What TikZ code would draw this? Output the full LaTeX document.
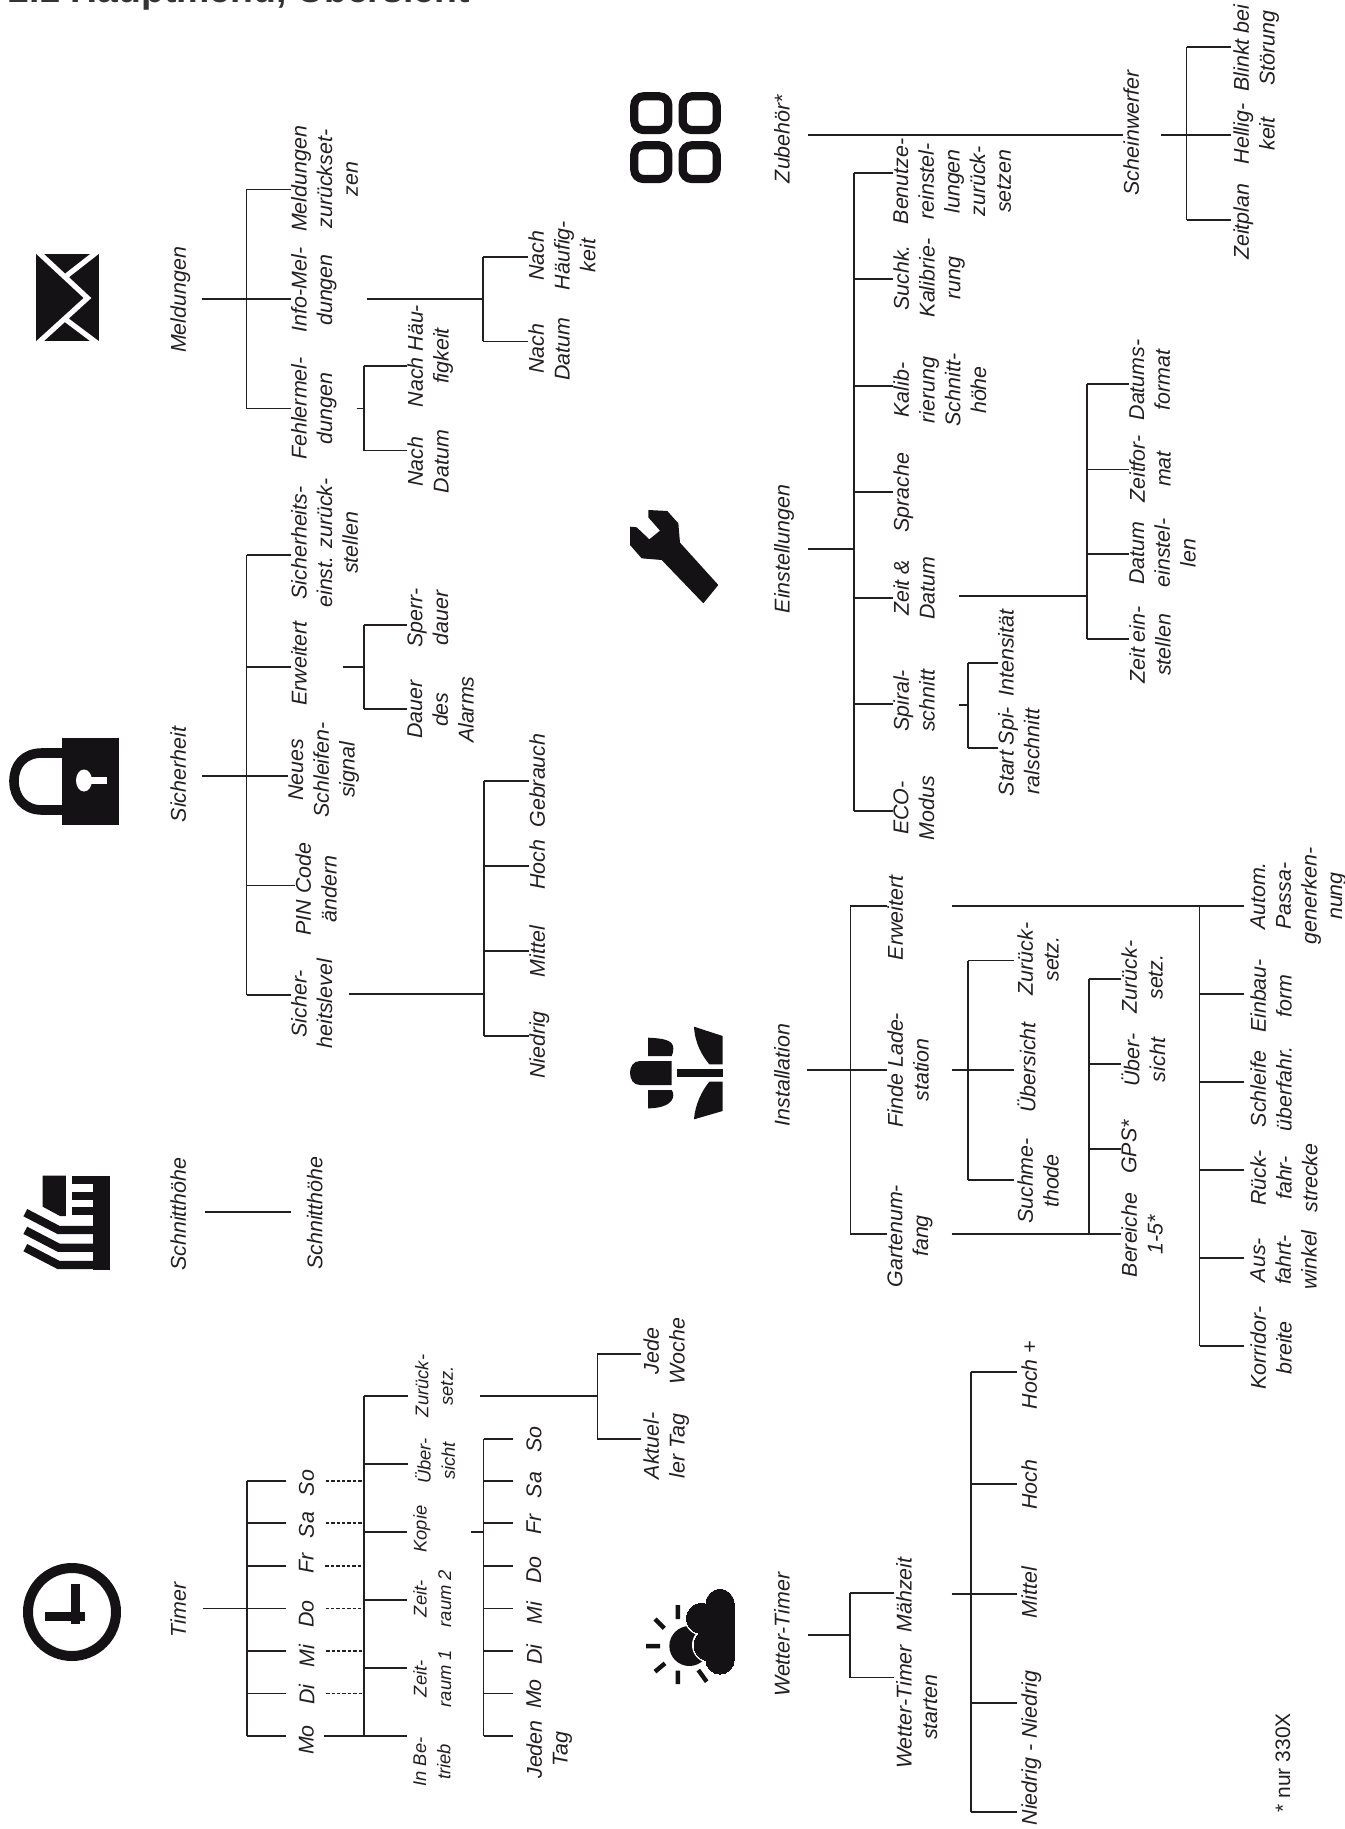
\documentclass[tikz,border=0pt]{standalone}
\usepackage{fontspec}
\setmainfont{Liberation Sans}
\definecolor{lineBlack}{HTML}{231F20}
\definecolor{iconBlack}{HTML}{141215}
\definecolor{titleGray}{HTML}{333333}
\begin{document}
\begin{tikzpicture}[x=0.5pt,y=-0.5pt]
  \tikzset{
    lbl/.style={font=\fontsize{10.7}{12.85}\selectfont\itshape,text=lineBlack,rotate=90,align=center,inner sep=0pt},
    lblsmall/.style={lbl,font=\fontsize{9.2}{12.2}\selectfont\itshape},
    foot/.style={lbl,font=\fontsize{10.5}{12.85}\selectfont},
    titlelbl/.style={font=\fontsize{18.7}{22}\selectfont\bfseries,text=titleGray,anchor=base west,inner sep=0pt},
    conn/.style={draw=lineBlack,line width=0.9pt},
    dots/.style={conn,dash pattern=on 1.7pt off 1pt},
    iconfill/.style={fill=iconBlack,draw=none},
    iconline/.style={draw=iconBlack,line width=2.2pt}
  }
  \useasboundingbox (0,0) rectangle (1344,1829);

  \node[titlelbl] (title) at (8,2.5) {2.1 Hauptmenü, Übersicht};

  % menu titles
  \foreach \n/\x/\y/\txt in {mRoot/170/300/Meldungen,sRoot/170/774.5/Sicherheit,hRoot/170/1214/Schnitthöhe,tRoot/170/1610/Timer,
      yRoot/773.7/139/Zubehör*,nRoot/773.7/549/Einstellungen,aRoot/773.7/1075/Installation,uRoot/773.7/1634.8/Wetter-Timer}
    {\node[lbl,anchor=north] (\n) at (\x,\y) {\txt};}

  % stubs and buses
  \foreach \a/\ax/\b/\bx/\y/\ya/\yb in {
      mIn/202/mBus/246.5/299/189.5/408.5,eIn/356.6/eBus/364/408.5/366/450.5,iIn/366.5/iBus/483/299/257/341.5,
      sIn/202/sBus/246.5/776/555/995,wIn/343/wBus/364/667/625/709,lIn/349/lBus/484/993.6/781/1036,
      tIn/202.5/tBus/246.6/1608.4/1481/1736,oIn/324/oBus/364/1736/1396/1736,kIn/470.7/kBus/483.5/1532/1438.7/1736,rIn/480/rBus/597.4/1396/1354/1438.7,
      zIn/1161/zBus/1186.5/135/46.7/219.8,nIn/808/nBus/854/549/173/810.7,dIn/959/dBus/1087/596.3/384/639,pIn/959/pBus/968/705/663/748,
      aIn/807/aBus/850.4/1070/906/1234,fIn/951.5/fBus/968/1070/960.5/1180,gIn/951.5/gBus/1089/1234/979/1234,xIn/952/xBus/1199.5/906/906/1346,
      uIn/808/uBus/850/1634.8/1593/1677.5,cIn/951.5/cBus/971/1593.6/1372/1812}
    {\coordinate (\a) at (\ax,\y);
     \coordinate (\b) at (\bx,\y);
     \draw[conn] (\a) -- (\b);
     \draw[conn] (\b |- 0,\ya) -- (\b |- 0,\yb);}

  % Meldungen
  \foreach \n/\yc/\yl/\txt in {mErr/408.5/408.5/{Fehlermel-\\dungen},mInfo/290/299/{Info-Mel-\\dungen},mReset/179/189.5/{Meldungen\\zurückset-\\zen}}
    {\node[lbl,anchor=north] (\n) at (290.6,\yc) {\txt};
     \draw[conn] (mBus |- 0,\yl) -- (\n.north |- 0,\yl);}
  \foreach \n/\yc/\yl/\txt in {eFreq/356/366/{Nach Häu-\\figkeit},eDate/461.5/450.5/{Nach\\Datum}}
    {\node[lbl,anchor=north] (\n) at (407,\yc) {\txt};
     \draw[conn] (eBus |- 0,\yl) -- (\n.north |- 0,\yl);}
  \foreach \n/\yc/\yl/\txt in {iFreq/255.7/257/{Nach\\Häufig-\\keit},iDate/349/341.5/{Nach\\Datum}}
    {\node[lbl,anchor=north] (\n) at (528,\yc) {\txt};
     \draw[conn] (iBus |- 0,\yl) -- (\n.north |- 0,\yl);}

  % Sicherheit
  \foreach \n/\x/\yc/\yl/\txt in {sReset/290.6/543/555/{Sicherheits-\\einst. zurück-\\stellen},sExt/290.6/663.4/667/Erweitert,
      sLoop/288/770/776/{Neues\\Schleifen-\\signal},sPin/295/889/885.4/{PIN Code\\ändern},sLevel/290.6/1003.7/995/{Sicher-\\heitslevel}}
    {\node[lbl,anchor=north] (\n) at (\x,\yc) {\txt};
     \draw[conn] (sBus |- 0,\yl) -- (\n.north |- 0,\yl);}
  \foreach \n/\yc/\yl/\txt in {wLock/618/625/{Sperr-\\dauer},wAlarm/709.7/709/{Dauer\\des\\Alarms}}
    {\node[lbl,anchor=north] (\n) at (407,\yc) {\txt};
     \draw[conn] (wBus |- 0,\yl) -- (\n.north |- 0,\yl);}
  \foreach \n/\yc/\yl/\txt in {lUse/780.5/781/Gebrauch,lHigh/865/866/Hoch,lMid/951.5/951/Mittel,lLow/1045/1036/Niedrig}
    {\node[lbl,anchor=north] (\n) at (529,\yc) {\txt};
     \draw[conn] (lBus |- 0,\yl) -- (\n.north |- 0,\yl);}

  % Schnitthöhe
  \node[lbl,anchor=north] (hChild) at (306.4,1213) {Schnitthöhe};
  \coordinate (hIn) at (205,1212);
  \draw[conn,shorten >=7.5pt] (hIn) -- (hChild.north |- hIn);

  % Timer
  \foreach \n/\yc/\yl/\txt in {dSo/1483/1481/So,dSa/1525/1523.3/Sa,dFr/1563/1565.7/Fr,dDo/1614/1608.4/Do,dMi/1656/1650.7/Mi,dDi/1694.6/1693.5/Di}
    {\node[lbl,anchor=north] (\n) at (298.5,\yc) {\txt};
     \draw[conn,shorten >=6.4pt] (tBus |- 0,\yl) -- (\n.north |- 0,\yl);
     \draw[dots,shorten <=5.7pt] (\n.south |- 0,\yl) -- (oBus |- 0,\yl);}
  \node[lbl,anchor=north] (dMo) at (298.5,1740) {Mo};
  \draw[conn,shorten >=6.4pt] (tBus |- 0,1736) -- (dMo.north |- 0,1736);
  \foreach \n/\x/\yc/\yl/\txt in {oReset/414.7/1386/1396/{Zurück-\\setz.},oView/414.7/1461/1464/{Über-\\sicht},oCopy/413/1529/1532/Kopie,
      oTwo/413/1598.7/1600/{Zeit-\\raum 2},oOne/413/1678.7/1668/{Zeit-\\raum 1},oRun/413/1762/1736/{In Be-\\trieb}}
    {\node[lblsmall,anchor=north] (\n) at (\x,\yc) {\txt};
     \draw[conn,shorten >=3.2pt] (oBus |- 0,\yl) -- (\n.north |- 0,\yl);}
  \foreach \n/\yc/\yl/\txt in {kSo/1439.5/1438.7/So,kSa/1485/1481/Sa,kFr/1524/1523.3/Fr,kDo/1570/1565.7/Do,kMi/1612.7/1608.4/Mi,kDi/1654.6/1650.7/Di,kMo/1694/1693.5/Mo,kAll/1749.5/1736/{Jeden\\Tag}}
    {\node[lbl,anchor=north] (\n) at (526,\yc) {\txt};
     \draw[conn,shorten >=6.5pt] (kBus |- 0,\yl) -- (\n.north |- 0,\yl);}
  \foreach \n/\yc/\yl/\txt in {rWeek/1351/1354/{Jede\\Woche},rDay/1445.7/1438.7/{Aktuel-\\ler Tag}}
    {\node[lbl,anchor=north] (\n) at (643,\yc) {\txt};
     \draw[conn,shorten >=1pt] (rBus |- 0,\yl) -- (\n.north |- 0,\yl);}

  % Zubehör
  \node[lbl,anchor=north] (yLamp) at (1123,132.9) {Scheinwerfer};
  \coordinate (yIn) at (808,135);
  \draw[conn] (yIn) -- (yLamp.north |- yIn);
  \foreach \n/\yc/\yl/\txt in {zBlink/48/46.7/{Blinkt bei\\Störung},zBright/134/135/{Hellig-\\keit},zPlan/221.7/219.8/Zeitplan}
    {\node[lbl,anchor=north] (\n) at (1233,\yc) {\txt};
     \draw[conn,shorten >=1pt] (zBus |- 0,\yl) -- (\n.north |- 0,\yl);}

  % Einstellungen
  \foreach \n/\yc/\yl/\txt in {nUser/181.4/173/{Benutze-\\reinstel-\\lungen\\zurück-\\setzen},nCal/278/279.3/{Suchk.\\Kalibrie-\\rung},
      nCut/390/386/{Kalib-\\rierung\\Schnitt-\\höhe},nLang/492.5/492/Sprache,nTime/588/598/{Zeit \&\\Datum},nSpiral/700.8/704/{Spiral-\\schnitt},nEco/808/810.7/{ECO-\\Modus}}
    {\node[lbl,anchor=north] (\n) at (893,\yc) {\txt};
     \draw[conn] (nBus |- 0,\yl) -- (\n.north |- 0,\yl);}
  \foreach \n/\yc/\yl/\txt in {dFmt/380/384/{Datums-\\format},dHour/469/469.5/{Zeitfor-\\mat},dSet/553/554/{Datum\\einstel-\\len},dClock/645/639/{Zeit ein-\\stellen}}
    {\node[lbl,anchor=north] (\n) at (1129,\yc) {\txt};
     \draw[conn] (dBus |- 0,\yl) -- (\n.north |- 0,\yl);}
  \foreach \n/\yc/\yl/\txt in {pInt/653/663/Intensität,pStart/751.6/748/{Start Spi-\\ralschnitt}}
    {\node[lbl,anchor=north] (\n) at (997.7,\yc) {\txt};
     \draw[conn] (pBus |- 0,\yl) -- (\n.north |- 0,\yl);}

  % Installation
  \foreach \n/\yc/\yl/\txt in {aExt/918/906/Erweitert,aDock/1070/1070/{Finde Lade-\\station},aSize/1236/1234/{Gartenum-\\fang}}
    {\node[lbl,anchor=north] (\n) at (887,\yc) {\txt};
     \draw[conn] (aBus |- 0,\yl) -- (\n.north |- 0,\yl);}
  \foreach \n/\yc/\yl/\txt in {fReset/959/960.5/{Zurück-\\setz.},fView/1067.5/1070/Übersicht,fFind/1181/1180/{Suchme-\\thode}}
    {\node[lbl,anchor=north] (\n) at (1017,\yc) {\txt};
     \draw[conn,shorten >=1.5pt] (fBus |- 0,\yl) -- (\n.north |- 0,\yl);}
  \foreach \n/\yc/\yl/\txt in {gReset/977/979/{Zurück-\\setz.},gView/1060/1064/{Über-\\sicht},gGps/1147/1149/GPS*,gArea/1235/1234/{Bereiche\\1-5*}}
    {\node[lbl,anchor=north] (\n) at (1121,\yc) {\txt};
     \draw[conn] (gBus |- 0,\yl) -- (\n.north |- 0,\yl);}
  \foreach \n/\yc/\yl/\txt in {xAuto/896/906/{Autom.\\Passa-\\generken-\\nung},xForm/996/994/{Einbau-\\form},xLoop/1089/1082/{Schleife\\überfahr.},
      xBack/1178/1170/{Rück-\\fahr-\\strecke},xExit/1260/1258/{Aus-\\fahrt-\\winkel},xWide/1348/1346/{Korridor-\\breite}}
    {\node[lbl,anchor=north] (\n) at (1250,\yc) {\txt};
     \draw[conn,shorten >=3pt] (xBus |- 0,\yl) -- (\n.north |- 0,\yl);}

  % Wetter-Timer
  \foreach \n/\yc/\yl/\txt in {uTime/1595/1593/Mähzeit,uStart/1707/1677.5/{Wetter-Timer\\starten}}
    {\node[lbl,anchor=north] (\n) at (895.6,\yc) {\txt};
     \draw[conn,shorten >=1pt] (uBus |- 0,\yl) -- (\n.north |- 0,\yl);}
  \foreach \n/\yc/\yl/\txt in {cPlus/1375/1372/Hoch +,cHigh/1484.5/1483.7/Hoch,cMid/1592.5/1593.6/Mittel,cLow/1748/1702.8/Niedrig - Niedrig}
    {\node[lbl,anchor=north] (\n) at (1021,\yc) {\txt};
     \draw[conn,shorten >=2pt] (cBus |- 0,\yl) -- (\n.north |- 0,\yl);}
  \draw[conn,shorten >=2pt] (cBus |- 0,1812) -- (cLow.north |- 0,1812);

  \node[foot,anchor=north] (note) at (1275,1762.7) {* nur 330X};

  % icons, left column
  \fill[iconfill] (36,253.6) rectangle (99,341.5);
  \draw[white,line width=2.6pt] (38,252) -- (87.5,298) -- (38,343) (97,252) -- (65,277) (97,343) -- (65,319);
  \fill[iconfill] (62,737.6) rectangle (119,824.7);
  \draw[iconline,line width=4.8pt] (62,753) -- (42,753) .. controls (24,753) and (14,765) .. (14,781) .. controls (14,797) and (24,810) .. (42,810) -- (62,810);
  \fill[white] (84,780.5) ellipse[x radius=8,y radius=11];
  \fill[white] (88,777) rectangle (107,784);
  \begin{scope}[shift={(10,1160)},scale=0.3333]
    \fill[iconfill] (98,47) -- (168,47) -- (168,168) -- (150,168) -- (98,140) -- cycle;
    \fill[iconfill] (250,47) rectangle (300,330);
    \foreach \y in {47,95,140}
      {\fill[iconfill] (186,\y) rectangle (250,\y+25);}
    \foreach \y in {0,53,105}
      {\draw[iconline,line width=4.1pt] (46,158+\y) -- (146,210+\y) -- (250,210+\y);}
  \end{scope}
  \draw[iconline,line width=5pt] (72,1612) ellipse[x radius=44,y radius=44];
  \fill[iconfill] (44.5,1612) rectangle (85,1621);
  \fill[iconfill] (71,1584) rectangle (80,1624);

  % icons, right column
  \begin{scope}[shift={(620,80)},scale=0.3333]
    \foreach \x/\y in {43/49,188/49,43/196,188/196}
      {\draw[iconline,line width=4.1pt,rounded corners=4.5pt] (\x,\y) rectangle (\x+102,\y+101);}
  \end{scope}
  \begin{scope}[shift={(620,500)},scale=0.3333]
    \fill[iconfill] (85,30) -- (142,33) -- (175,70) -- (180,128) -- (295,255) -- (250,310) -- (125,180) -- (65,175) -- (30,135) -- (30,80) -- (50,82) -- (88,118) -- (120,92) -- (85,52) -- cycle;
  \end{scope}
  \begin{scope}[shift={(620,1030)},scale=0.3333]
    \fill[iconfill] (222,-10) -- (308,18) -- (308,103) -- (268,103) .. controls (245,75) and (225,40) .. cycle;
    \fill[iconfill] (222,268) -- (308,243) -- (308,155) -- (268,155) .. controls (245,183) and (225,225) .. cycle;
    \fill[iconfill] (172,118) rectangle (308,140);
    \fill[iconfill] (155,93) -- (60,93) .. controls (40,93) and (30,110) .. (30,128) .. controls (30,148) and (40,165) .. (60,165) -- (155,165) -- cycle;
    \fill[iconfill] (84,23) .. controls (130,25) and (160,30) .. (160,55) .. controls (160,65) and (158,72) .. (155,78) -- (84,78) -- cycle;
    \fill[iconfill] (84,235) .. controls (130,235) and (160,220) .. (160,195) .. controls (160,190) and (158,185) .. (155,180) -- (84,180) -- cycle;
  \end{scope}
  \begin{scope}[shift={(635,1570)},scale=0.3333]
    \draw[iconline] (128.5,105) -- (128.5,147) (60,147) -- (88,175) (33,228.5) -- (75,228.5) (60,305) -- (90,280) (128.5,302) -- (128.5,342) (190,300) -- (215,335);
    \fill[iconfill] (163,228) circle[radius=60];
    \foreach \clr/\wd in {white/2pt,iconBlack/0pt}
      {\filldraw[fill=\clr,draw=\clr,line width=\wd] (255,100) circle[radius=42];
       \filldraw[fill=\clr,draw=\clr,line width=\wd] (200,145) circle[radius=45];
       \filldraw[fill=\clr,draw=\clr,line width=\wd] (225,225) circle[radius=48];
       \filldraw[fill=\clr,draw=\clr,line width=\wd] (255,270) circle[radius=42];
       \filldraw[fill=\clr,draw=\clr,line width=\wd] (225,100) rectangle (297,270);}
  \end{scope}
\end{tikzpicture}
\end{document}
